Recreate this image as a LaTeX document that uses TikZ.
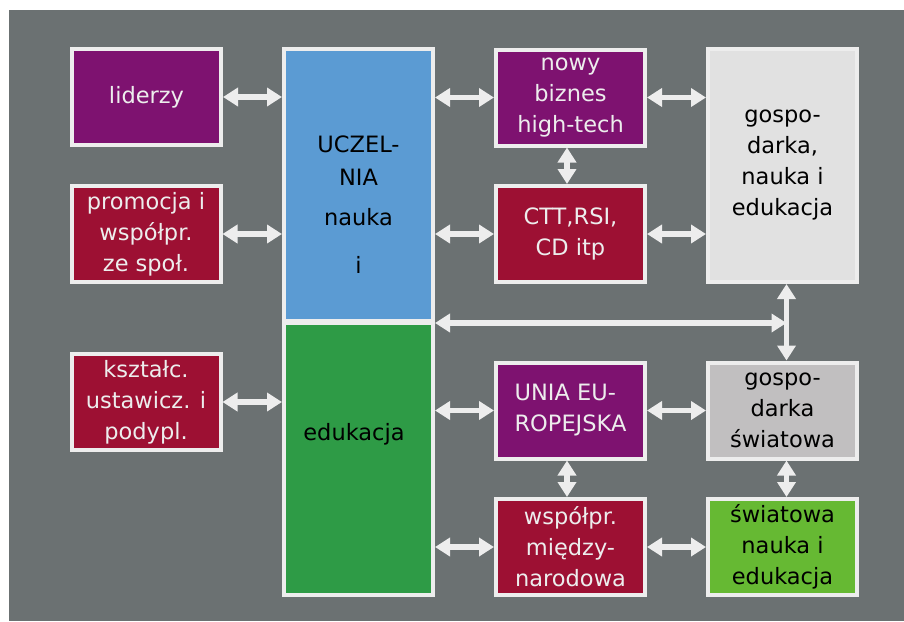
\documentclass[tikz,border=0pt]{standalone}
\usepackage{fontspec}
\setmainfont{DejaVu Sans}
\usetikzlibrary{arrows.meta}
\definecolor{tlo}{HTML}{6B7172}
\definecolor{ramka}{HTML}{EDEDED}
\definecolor{fiolet}{HTML}{7E1270}
\definecolor{bordo}{HTML}{9D1033}
\definecolor{niebieski}{HTML}{5B9BD3}
\definecolor{zielony}{HTML}{2E9B46}
\definecolor{jasnoszary}{HTML}{E1E1E1}
\definecolor{szary}{HTML}{C1BFC0}
\definecolor{limonka}{HTML}{66B933}
\begin{document}
\begin{tikzpicture}[x=1pt,y=-1pt,
    napis/.style={align=center,font=\fontsize{22.5}{31}\selectfont},
    box/.style={napis,draw=ramka,line width=4pt,inner sep=0pt,outer sep=2pt},
    mala/.style={box,minimum width=149pt,minimum height=96pt},
    dwu/.style={{Triangle[length=15pt,width=18pt]}-{Triangle[length=15pt,width=18pt]},draw=ramka,line width=5.5pt}]
  \useasboundingbox (0,0) rectangle (904,621);
  \fill[tlo] (9,10) rectangle (904,621);
  % lewa kolumna
  \node[mala,fill=fiolet,text=ramka] (liderzy) at (146.5,97) {liderzy};
  \node[mala,fill=bordo,text=ramka] (promocja) at (146,234) {promocja i\\współpr.\\ze społ.};
  \node[mala,fill=bordo,text=ramka] (ksztalc) at (146,402) {kształc.\\ustawicz. i\\podypl.};
  % uczelnia
  \node[box,fill=niebieski,minimum width=149pt,minimum height=272pt] (uczelnia) at (358.5,185) {};
  \node[box,fill=zielony,minimum width=149pt,minimum height=272pt] (edukacja) at (358.5,459) {};
  \node[napis] (uczelniatxt) at (358.5,205) {UCZEL-\\[2pt]NIA\\[9pt]nauka\\[17pt]i};
  \node[napis] (edukacjatxt) at (354,434) {edukacja};
  % prawa strona
  \node[mala,fill=fiolet,text=ramka] (biznes) at (570.5,97.5) {nowy\\biznes\\high-tech};
  \node[mala,fill=bordo,text=ramka] (ctt) at (570.5,234) {CTT,RSI,\\CD itp};
  \node[box,fill=jasnoszary,minimum width=149pt,minimum height=233pt] (gosp) at (782.5,165.5) {gospo-\\darka,\\nauka i\\edukacja};
  \node[mala,fill=fiolet,text=ramka,align=left] (unia) at (570.5,410.5) {UNIA EU-\\ROPEJSKA};
  \node[mala,fill=szary] (swiat) at (782.5,410.5) {gospo-\\darka\\światowa};
  \node[mala,fill=bordo,text=ramka] (wspolpr) at (570.5,547) {współpr.\\między-\\narodowa};
  \node[mala,fill=limonka] (nauka) at (782.5,547) {światowa\\nauka i\\edukacja};
  % strzalki
  \draw[dwu] (liderzy.east) -- (liderzy.east -| uczelnia.west);
  \draw[dwu] (promocja.east) -- (promocja.east -| uczelnia.west);
  \draw[dwu] (ksztalc.east) -- (ksztalc.east -| edukacja.west);
  \draw[dwu] (uczelnia.east |- biznes) -- (biznes.west);
  \draw[dwu] (uczelnia.east |- ctt) -- (ctt.west);
  \draw[dwu] (biznes.east) -- (biznes.east -| gosp.west);
  \draw[dwu] (ctt.east) -- (ctt.east -| gosp.west);
  \draw[dwu] (edukacja.east |- unia) -- (unia.west);
  \draw[dwu] (edukacja.east |- wspolpr) -- (wspolpr.west);
  \draw[dwu] (unia.east) -- (swiat.west);
  \draw[dwu] (wspolpr.east) -- (nauka.west);
  \draw[dwu] ([xshift=-3.5pt]biznes.south) -- ([xshift=-3.5pt]ctt.north);
  \draw[dwu] ([xshift=-3.5pt]unia.south) -- ([xshift=-3.5pt]wspolpr.north);
  \draw[dwu] ([xshift=4pt]swiat.south) -- ([xshift=4pt]nauka.north);
  \coordinate (os) at ([xshift=4pt]gosp.south);
  \coordinate (wezel) at (os |- uczelnia.south east);
  \draw[dwu] (os) -- (os |- swiat.north);
  \draw[dwu] (uczelnia.south east) -- (wezel);
\end{tikzpicture}
\end{document}
